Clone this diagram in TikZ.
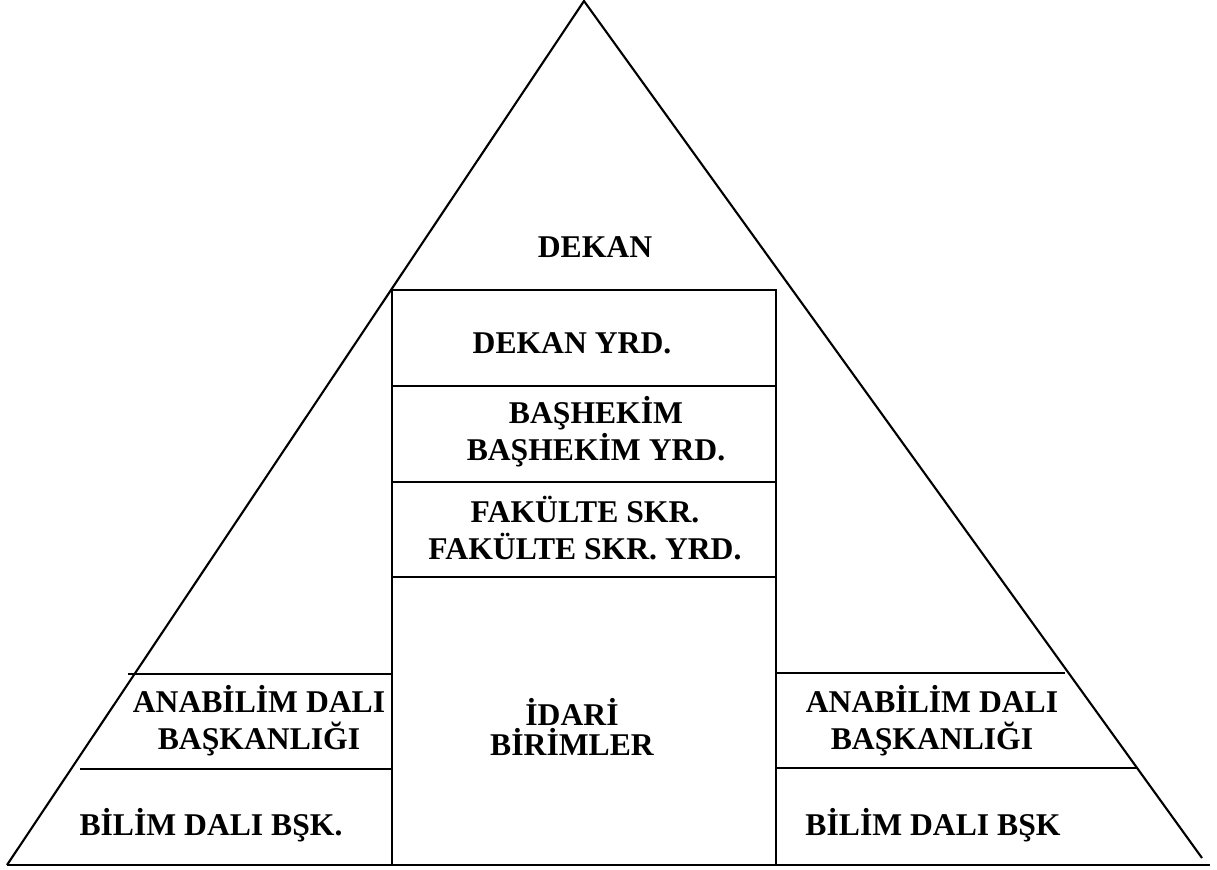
\documentclass[tikz,border=0pt]{standalone}
\usepackage{fontspec}
\setmainfont{Liberation Serif}
\begin{document}
\begin{tikzpicture}[x=0.01cm,y=-0.01cm,
        lbl/.style={font=\bfseries\fontsize{9}{10.5}\selectfont,align=center,inner sep=0pt},
        ln/.style={line width=0.6pt,black}]
        \useasboundingbox (0,0) rectangle (1217,870);
        % triangle
        \draw[ln] (7,865)--(584,1)--(1202,858);
        \draw[ln] (7,865)--(1210,865);
        % middle column
        \draw[ln] (392,290) rectangle (776,865);
        \draw[ln] (392,386)--(776,386);
        \draw[ln] (392,482)--(776,482);
        \draw[ln] (392,577)--(776,577);
        % side rows
        \draw[ln] (128,674)--(392,674);
        \draw[ln] (80,769)--(392,769);
        \draw[ln] (776,673)--(1065,673);
        \draw[ln] (776,768)--(1137,768);
        % labels
        \node[lbl] (dekan) at (595,247) {DEKAN};
        \node[lbl] (dekanyrd) at (572,343) {DEKAN YRD.};
        \node[lbl] (bashekim) at (596,432) {BAŞHEKİM\\BAŞHEKİM YRD.};
        \node[lbl] (fakulte) at (585,528) {FAKÜLTE SKR.\\FAKÜLTE SKR. YRD.};
        \node[lbl,font=\bfseries\fontsize{9}{8.6}\selectfont] (idari) at (572,727) {İDARİ\\BİRİMLER};
        \node[lbl] (anaL) at (259,721) {ANABİLİM DALI\\BAŞKANLIĞI};
        \node[lbl] (bilimL) at (211,825) {BİLİM DALI BŞK.};
        \node[lbl] (anaR) at (932,721) {ANABİLİM DALI\\BAŞKANLIĞI};
        \node[lbl] (bilimR) at (933,825) {BİLİM DALI BŞK};
\end{tikzpicture}
\end{document}
